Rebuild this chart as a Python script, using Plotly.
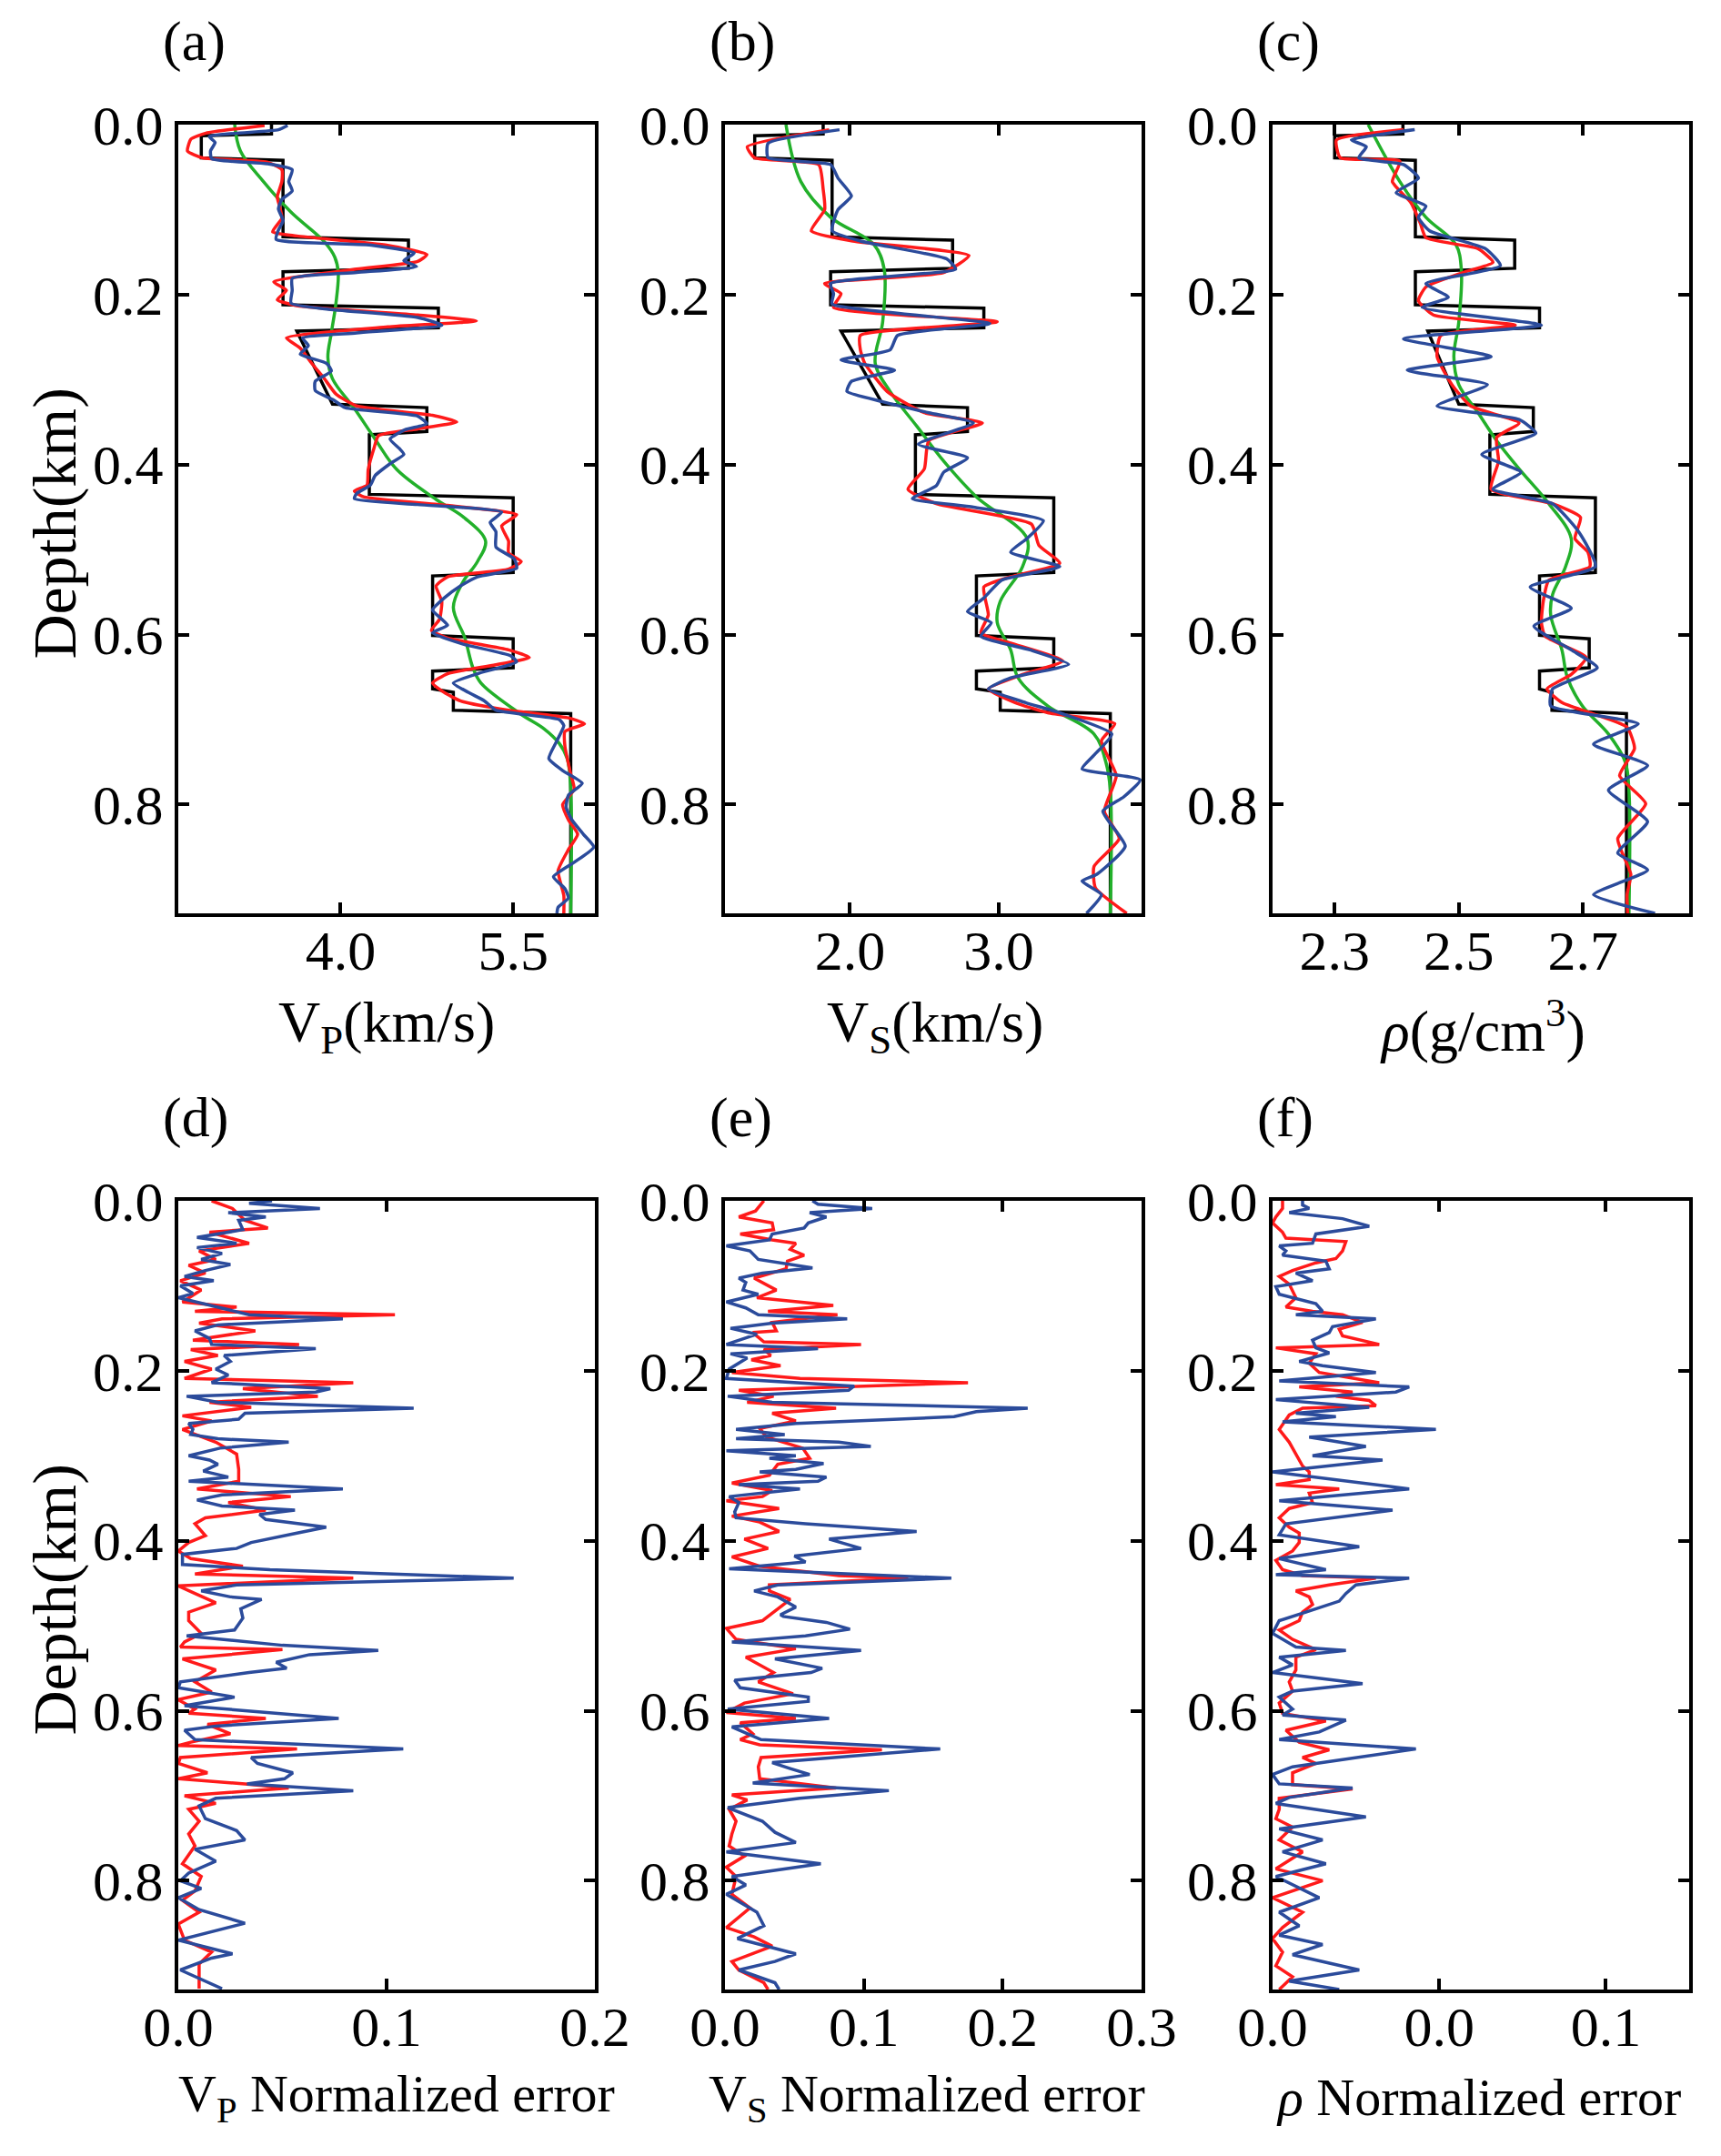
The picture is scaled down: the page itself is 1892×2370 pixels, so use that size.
import plotly.graph_objects as go

W, H = 1892, 2370
FONT = "Liberation Serif"
RED = "#ff1a1a"
BLUE = "#2b4b9b"
GREEN = "#22b02a"

# ---- true model (black): layer interfaces are shared by the three panels
true_depth = [0.000, 0.011, 0.013, 0.039, 0.042, 0.132, 0.136, 0.169, 0.173, 0.212,
              0.216, 0.239, 0.243, 0.329, 0.333, 0.361, 0.365, 0.435, 0.439, 0.527,
              0.531, 0.601, 0.605, 0.639, 0.643, 0.664, 0.668, 0.689, 0.693, 0.928]
true_vp = [3.40, 3.40, 2.79, 2.79, 3.50, 3.50, 4.59, 4.59, 3.50, 3.50,
           4.85, 4.85, 3.62, 3.93, 4.75, 4.75, 4.25, 4.25, 5.50, 5.50,
           4.80, 4.80, 5.50, 5.50, 4.80, 4.80, 4.98, 4.98, 6.00, 6.00]
true_vs = [1.82, 1.82, 1.36, 1.36, 1.88, 1.88, 2.69, 2.69, 1.87, 1.87,
           2.90, 2.90, 1.94, 2.22, 2.79, 2.79, 2.44, 2.44, 3.37, 3.37,
           2.85, 2.85, 3.37, 3.37, 2.85, 2.85, 3.01, 3.01, 3.75, 3.75]
true_rho = [2.41, 2.41, 2.30, 2.30, 2.43, 2.43, 2.59, 2.59, 2.43, 2.43,
            2.63, 2.63, 2.45, 2.50, 2.62, 2.62, 2.55, 2.55, 2.72, 2.72,
            2.63, 2.63, 2.71, 2.71, 2.63, 2.63, 2.65, 2.65, 2.77, 2.77]

# ---- initial (green) models, (depth, value)
vp_init = [(0.000, 3.08), (0.031, 3.13), (0.067, 3.33), (0.103, 3.57), (0.138, 3.86),
           (0.156, 3.95), (0.174, 3.98), (0.210, 3.96), (0.245, 3.92), (0.274, 3.89),
           (0.299, 3.93), (0.334, 4.12), (0.370, 4.30), (0.406, 4.49), (0.441, 4.83),
           (0.463, 5.08), (0.490, 5.26), (0.514, 5.19), (0.539, 5.06), (0.568, 4.98),
           (0.604, 5.08), (0.639, 5.15), (0.657, 5.22), (0.693, 5.56), (0.711, 5.77),
           (0.728, 5.90), (0.746, 5.97), (0.782, 6.00), (0.928, 6.00)]
vs_init = [(0.000, 1.57), (0.067, 1.67), (0.109, 1.87), (0.141, 2.16), (0.170, 2.23),
           (0.232, 2.22), (0.281, 2.17), (0.314, 2.27), (0.355, 2.45), (0.396, 2.63),
           (0.438, 2.85), (0.487, 3.19), (0.520, 3.16), (0.561, 3.01), (0.586, 2.99),
           (0.618, 3.08), (0.651, 3.13), (0.684, 3.33), (0.717, 3.64), (0.750, 3.72),
           (0.783, 3.75), (0.928, 3.75)]
rho_init = [(0.000, 2.354), (0.067, 2.405), (0.109, 2.447), (0.141, 2.495), (0.170, 2.504),
            (0.232, 2.500), (0.273, 2.492), (0.306, 2.500), (0.339, 2.531), (0.372, 2.561),
            (0.405, 2.597), (0.446, 2.645), (0.487, 2.681), (0.520, 2.672), (0.553, 2.651),
            (0.577, 2.648), (0.618, 2.666), (0.651, 2.675), (0.684, 2.699), (0.717, 2.741),
            (0.750, 2.768), (0.783, 2.774), (0.928, 2.774)]

# ---- inverted models (red / blue)
vp_red = [(0.001, 3.34), (0.010, 2.83), (0.017, 2.70), (0.031, 2.67), (0.039, 2.80),
          (0.044, 3.36), (0.053, 3.49), (0.067, 3.49), (0.085, 3.45), (0.096, 3.47),
          (0.110, 3.49), (0.126, 3.41), (0.131, 3.62), (0.142, 4.41), (0.153, 4.75),
          (0.161, 4.67), (0.170, 4.14), (0.185, 3.42), (0.195, 3.53), (0.206, 3.45),
          (0.213, 3.62), (0.224, 4.67), (0.231, 5.18), (0.238, 4.41), (0.251, 3.53),
          (0.263, 3.65), (0.281, 3.75), (0.299, 3.86), (0.317, 3.96), (0.331, 4.14),
          (0.342, 4.80), (0.350, 5.01), (0.358, 4.67), (0.366, 4.33), (0.381, 4.29),
          (0.406, 4.24), (0.424, 4.23), (0.431, 4.12), (0.438, 4.20), (0.448, 4.93),
          (0.459, 5.53), (0.472, 5.40), (0.490, 5.46), (0.504, 5.46), (0.514, 5.57),
          (0.523, 5.46), (0.532, 4.93), (0.543, 4.83), (0.561, 4.88), (0.582, 4.86),
          (0.595, 4.79), (0.604, 4.93), (0.618, 5.46), (0.627, 5.64), (0.636, 5.33),
          (0.646, 4.93), (0.657, 4.80), (0.668, 4.90), (0.678, 5.04), (0.689, 5.46),
          (0.698, 5.98), (0.705, 6.12), (0.714, 5.95), (0.732, 5.95), (0.764, 6.00),
          (0.782, 6.03), (0.800, 5.93), (0.818, 5.98), (0.835, 6.06), (0.853, 5.98),
          (0.878, 5.89), (0.907, 5.94), (0.928, 5.94)]
vp_blue = [(0.001, 3.54), (0.006, 3.46), (0.014, 2.86), (0.021, 2.91), (0.031, 2.87),
           (0.040, 2.88), (0.046, 3.36), (0.053, 3.58), (0.067, 3.55), (0.078, 3.58),
           (0.088, 3.49), (0.099, 3.46), (0.113, 3.50), (0.124, 3.46), (0.135, 3.44),
           (0.142, 4.28), (0.151, 4.64), (0.160, 4.55), (0.167, 4.66), (0.174, 4.14),
           (0.181, 3.58), (0.195, 3.58), (0.210, 3.57), (0.217, 3.88), (0.227, 4.67),
           (0.236, 4.88), (0.245, 4.14), (0.251, 3.67), (0.260, 3.72), (0.270, 3.65),
           (0.281, 3.88), (0.290, 3.92), (0.302, 3.78), (0.313, 3.78), (0.324, 3.94),
           (0.333, 4.04), (0.343, 4.67), (0.352, 4.75), (0.359, 4.56), (0.370, 4.43),
           (0.381, 4.51), (0.388, 4.55), (0.399, 4.43), (0.413, 4.30), (0.424, 4.26),
           (0.434, 4.14), (0.440, 4.12), (0.447, 4.67), (0.456, 5.40), (0.468, 5.30),
           (0.479, 5.35), (0.497, 5.35), (0.511, 5.51), (0.522, 5.53), (0.532, 5.19),
           (0.543, 5.04), (0.557, 4.90), (0.571, 4.80), (0.582, 4.88), (0.589, 4.93),
           (0.598, 4.80), (0.611, 5.06), (0.625, 5.48), (0.632, 5.53), (0.646, 5.19),
           (0.657, 4.98), (0.668, 5.11), (0.678, 5.25), (0.689, 5.35), (0.700, 5.90),
           (0.707, 5.94), (0.725, 5.88), (0.746, 5.81), (0.760, 5.93), (0.775, 6.10),
           (0.789, 5.98), (0.803, 5.96), (0.818, 6.01), (0.835, 6.11), (0.850, 6.20),
           (0.868, 6.03), (0.885, 5.85), (0.899, 5.95), (0.910, 5.98), (0.921, 5.89),
           (0.928, 5.88)]
vs_red = [(0.006, 1.86), (0.026, 1.31), (0.039, 1.36), (0.047, 1.79), (0.076, 1.82),
          (0.100, 1.83), (0.125, 1.74), (0.137, 2.02), (0.154, 2.80), (0.174, 2.63),
          (0.187, 1.83), (0.199, 1.94), (0.215, 1.89), (0.232, 2.99), (0.248, 2.07),
          (0.265, 2.07), (0.281, 2.10), (0.314, 2.25), (0.339, 2.50), (0.351, 2.89),
          (0.372, 2.53), (0.405, 2.50), (0.429, 2.39), (0.446, 2.58), (0.470, 3.22),
          (0.495, 3.27), (0.516, 3.41), (0.532, 3.08), (0.544, 2.90), (0.577, 2.93),
          (0.598, 2.88), (0.610, 3.08), (0.631, 3.43), (0.647, 3.16), (0.664, 2.93),
          (0.680, 3.11), (0.692, 3.33), (0.705, 3.78), (0.725, 3.69), (0.766, 3.79),
          (0.808, 3.71), (0.840, 3.81), (0.873, 3.64), (0.898, 3.65), (0.928, 3.86)]
vs_blue = [(0.006, 1.93), (0.022, 1.45), (0.039, 1.45), (0.047, 1.87), (0.063, 1.92),
           (0.084, 2.01), (0.100, 1.92), (0.125, 1.88), (0.137, 2.07), (0.158, 2.65),
           (0.170, 2.71), (0.187, 1.87), (0.199, 1.89), (0.211, 1.88), (0.234, 2.94),
           (0.248, 2.32), (0.265, 2.27), (0.277, 1.94), (0.289, 2.30), (0.302, 2.01),
           (0.314, 1.98), (0.326, 2.22), (0.339, 2.53), (0.351, 2.83), (0.376, 2.46),
           (0.392, 2.79), (0.409, 2.63), (0.425, 2.58), (0.440, 2.42), (0.450, 2.83),
           (0.466, 3.30), (0.487, 3.19), (0.503, 3.08), (0.520, 3.41), (0.536, 3.02),
           (0.557, 2.90), (0.573, 2.79), (0.586, 2.95), (0.602, 2.88), (0.618, 3.21),
           (0.635, 3.47), (0.651, 3.08), (0.664, 2.93), (0.680, 3.18), (0.692, 3.41),
           (0.717, 3.76), (0.742, 3.64), (0.758, 3.56), (0.771, 3.95), (0.791, 3.84),
           (0.808, 3.70), (0.849, 3.85), (0.882, 3.66), (0.890, 3.56), (0.906, 3.69),
           (0.928, 3.59)]
rho_red = [(0.006, 2.411), (0.018, 2.303), (0.039, 2.309), (0.043, 2.405), (0.067, 2.393),
           (0.092, 2.423), (0.116, 2.438), (0.133, 2.447), (0.146, 2.531), (0.162, 2.555),
           (0.174, 2.507), (0.191, 2.447), (0.207, 2.435), (0.224, 2.459), (0.236, 2.591),
           (0.248, 2.471), (0.273, 2.465), (0.306, 2.489), (0.331, 2.519), (0.351, 2.597),
           (0.368, 2.561), (0.396, 2.564), (0.429, 2.552), (0.446, 2.651), (0.462, 2.696),
           (0.487, 2.687), (0.503, 2.708), (0.520, 2.711), (0.536, 2.645), (0.561, 2.636),
           (0.586, 2.633), (0.602, 2.639), (0.627, 2.705), (0.647, 2.681), (0.664, 2.642),
           (0.680, 2.666), (0.692, 2.711), (0.709, 2.771), (0.734, 2.783), (0.766, 2.759),
           (0.799, 2.801), (0.840, 2.756), (0.882, 2.777), (0.906, 2.771), (0.928, 2.772)]
rho_blue = [(0.006, 2.429), (0.018, 2.327), (0.026, 2.351), (0.039, 2.339), (0.047, 2.411),
            (0.063, 2.435), (0.080, 2.399), (0.096, 2.447), (0.109, 2.435), (0.125, 2.453),
            (0.146, 2.543), (0.166, 2.567), (0.187, 2.447), (0.203, 2.483), (0.215, 2.441),
            (0.236, 2.633), (0.252, 2.411), (0.273, 2.552), (0.289, 2.417), (0.306, 2.546),
            (0.331, 2.465), (0.347, 2.597), (0.363, 2.624), (0.388, 2.537), (0.409, 2.600),
            (0.429, 2.555), (0.446, 2.651), (0.479, 2.693), (0.520, 2.720), (0.544, 2.615),
            (0.569, 2.681), (0.590, 2.621), (0.618, 2.681), (0.639, 2.723), (0.664, 2.651),
            (0.684, 2.648), (0.705, 2.789), (0.729, 2.717), (0.754, 2.804), (0.783, 2.741),
            (0.820, 2.804), (0.857, 2.756), (0.877, 2.804), (0.906, 2.717), (0.928, 2.816)]

# ---- normalized errors (depth, error)
vp_err_red = [(0.000, 0.016), (0.009, 0.026), (0.023, 0.032), (0.032, 0.043), (0.037, 0.015),
              (0.050, 0.034), (0.059, 0.010), (0.069, 0.018), (0.076, 0.005), (0.085, 0.013),
              (0.094, 0.001), (0.105, 0.011), (0.119, 0.002), (0.125, 0.028), (0.130, 0.008),
              (0.134, 0.104), (0.139, 0.021), (0.144, 0.010), (0.153, 0.037), (0.164, 0.007),
              (0.169, 0.058), (0.175, 0.006), (0.182, 0.019), (0.189, 0.003), (0.198, 0.016),
              (0.209, 0.003), (0.214, 0.084), (0.221, 0.031), (0.230, 0.067), (0.237, 0.015),
              (0.243, 0.035), (0.253, 0.002), (0.259, 0.016), (0.269, 0.002), (0.284, 0.018),
              (0.298, 0.028), (0.316, 0.029), (0.330, 0.029), (0.339, 0.009), (0.348, 0.054),
              (0.355, 0.024), (0.364, 0.042), (0.373, 0.013), (0.380, 0.008), (0.394, 0.013),
              (0.402, 0.005), (0.412, 0.000), (0.421, 0.006), (0.430, 0.031), (0.439, 0.008),
              (0.444, 0.084), (0.453, 0.000), (0.462, 0.008), (0.473, 0.018), (0.484, 0.005),
              (0.494, 0.005), (0.509, 0.011), (0.519, 0.003), (0.525, 0.001), (0.528, 0.050),
              (0.539, 0.002), (0.552, 0.018), (0.566, 0.008), (0.578, 0.016), (0.587, 0.000),
              (0.598, 0.008), (0.603, 0.005), (0.609, 0.042), (0.616, 0.014), (0.627, 0.025),
              (0.637, 0.006), (0.641, 0.000), (0.645, 0.057), (0.655, 0.001), (0.662, 0.000),
              (0.673, 0.014), (0.680, 0.000), (0.686, 0.032), (0.691, 0.053), (0.700, 0.003),
              (0.709, 0.018), (0.716, 0.005), (0.730, 0.010), (0.745, 0.005), (0.759, 0.008),
              (0.766, 0.006), (0.780, 0.002), (0.795, 0.011), (0.812, 0.008), (0.823, 0.002),
              (0.837, 0.010), (0.851, 0.000), (0.870, 0.003), (0.884, 0.016), (0.898, 0.010),
              (0.927, 0.010)]
vp_err_blue = [(0.000, 0.045), (0.003, 0.034), (0.009, 0.068), (0.014, 0.024), (0.019, 0.042),
               (0.023, 0.029), (0.034, 0.031), (0.043, 0.009), (0.050, 0.028), (0.055, 0.009),
               (0.062, 0.021), (0.069, 0.011), (0.075, 0.025), (0.082, 0.013), (0.089, 0.003),
               (0.094, 0.017), (0.100, 0.001), (0.109, 0.007), (0.114, 0.000), (0.123, 0.016),
               (0.134, 0.034), (0.139, 0.079), (0.146, 0.019), (0.153, 0.008), (0.162, 0.015),
               (0.169, 0.016), (0.174, 0.066), (0.182, 0.022), (0.189, 0.025), (0.198, 0.018),
               (0.205, 0.024), (0.214, 0.016), (0.221, 0.073), (0.225, 0.066), (0.230, 0.004),
               (0.237, 0.019), (0.244, 0.113), (0.250, 0.032), (0.257, 0.029), (0.262, 0.005),
               (0.269, 0.007), (0.275, 0.006), (0.280, 0.019), (0.284, 0.053), (0.291, 0.020),
               (0.300, 0.005), (0.305, 0.015), (0.310, 0.019), (0.318, 0.012), (0.325, 0.024),
               (0.330, 0.005), (0.339, 0.079), (0.346, 0.021), (0.352, 0.009), (0.359, 0.021),
               (0.364, 0.056), (0.369, 0.039), (0.375, 0.042), (0.384, 0.071), (0.391, 0.057),
               (0.402, 0.035), (0.409, 0.028), (0.416, 0.002), (0.428, 0.002), (0.434, 0.044),
               (0.444, 0.161), (0.452, 0.028), (0.459, 0.011), (0.466, 0.025), (0.469, 0.040),
               (0.480, 0.030), (0.491, 0.031), (0.505, 0.027), (0.512, 0.004), (0.523, 0.050),
               (0.529, 0.096), (0.534, 0.063), (0.543, 0.047), (0.550, 0.052), (0.555, 0.034),
               (0.566, 0.001), (0.573, 0.000), (0.584, 0.027), (0.594, 0.003), (0.602, 0.041),
               (0.609, 0.077), (0.618, 0.018), (0.623, 0.003), (0.634, 0.008), (0.645, 0.108),
               (0.655, 0.035), (0.662, 0.038), (0.673, 0.055), (0.680, 0.051), (0.686, 0.033),
               (0.694, 0.084), (0.703, 0.018), (0.712, 0.010), (0.727, 0.013), (0.741, 0.028),
               (0.752, 0.032), (0.763, 0.008), (0.777, 0.018), (0.791, 0.005), (0.800, 0.001),
               (0.809, 0.011), (0.820, 0.000), (0.834, 0.010), (0.850, 0.032), (0.870, 0.000),
               (0.886, 0.026), (0.891, 0.016), (0.905, 0.001), (0.927, 0.021)]
vs_err_red = [(0.000, 0.028), (0.012, 0.022), (0.019, 0.010), (0.026, 0.034), (0.034, 0.035),
              (0.039, 0.011), (0.046, 0.034), (0.050, 0.051), (0.057, 0.047), (0.064, 0.057),
              (0.071, 0.045), (0.080, 0.044), (0.091, 0.021), (0.105, 0.037), (0.114, 0.023),
              (0.123, 0.078), (0.130, 0.031), (0.134, 0.081), (0.143, 0.034), (0.153, 0.037),
              (0.155, 0.020), (0.166, 0.028), (0.169, 0.098), (0.175, 0.028), (0.182, 0.033),
              (0.187, 0.019), (0.194, 0.040), (0.202, 0.005), (0.209, 0.054), (0.214, 0.175),
              (0.223, 0.010), (0.230, 0.035), (0.237, 0.016), (0.244, 0.080), (0.250, 0.034),
              (0.259, 0.051), (0.268, 0.025), (0.278, 0.030), (0.291, 0.056), (0.303, 0.061),
              (0.310, 0.038), (0.323, 0.032), (0.332, 0.005), (0.341, 0.034), (0.348, 0.027),
              (0.353, 0.001), (0.362, 0.039), (0.371, 0.005), (0.378, 0.025), (0.389, 0.039),
              (0.398, 0.014), (0.409, 0.031), (0.419, 0.005), (0.430, 0.025), (0.441, 0.082),
              (0.444, 0.132), (0.452, 0.032), (0.459, 0.032), (0.469, 0.047), (0.487, 0.032),
              (0.494, 0.027), (0.503, 0.001), (0.516, 0.008), (0.527, 0.051), (0.537, 0.015),
              (0.555, 0.035), (0.566, 0.024), (0.580, 0.049), (0.591, 0.014), (0.602, 0.001),
              (0.609, 0.051), (0.614, 0.011), (0.627, 0.020), (0.634, 0.011), (0.640, 0.025),
              (0.646, 0.113), (0.655, 0.026), (0.666, 0.024), (0.680, 0.025), (0.691, 0.080),
              (0.699, 0.005), (0.705, 0.016), (0.716, 0.003), (0.730, 0.008), (0.745, 0.005),
              (0.759, 0.003), (0.771, 0.014), (0.784, 0.001), (0.795, 0.008), (0.816, 0.005),
              (0.832, 0.018), (0.855, 0.001), (0.866, 0.021), (0.877, 0.034), (0.895, 0.005),
              (0.905, 0.010), (0.920, 0.028), (0.928, 0.031)]
vs_err_blue = [(0.000, 0.063), (0.004, 0.067), (0.009, 0.106), (0.014, 0.061), (0.019, 0.073),
               (0.026, 0.060), (0.032, 0.057), (0.039, 0.034), (0.046, 0.032), (0.053, 0.001),
               (0.059, 0.018), (0.069, 0.024), (0.079, 0.063), (0.085, 0.027), (0.091, 0.010),
               (0.096, 0.015), (0.105, 0.013), (0.110, 0.024), (0.119, 0.001), (0.126, 0.015),
               (0.134, 0.024), (0.139, 0.088), (0.144, 0.034), (0.150, 0.004), (0.157, 0.023),
               (0.169, 0.001), (0.174, 0.067), (0.180, 0.004), (0.185, 0.016), (0.198, 0.003),
               (0.209, 0.001), (0.218, 0.093), (0.223, 0.089), (0.230, 0.002), (0.237, 0.034),
               (0.244, 0.218), (0.248, 0.181), (0.254, 0.165), (0.262, 0.051), (0.269, 0.008),
               (0.275, 0.043), (0.280, 0.008), (0.284, 0.082), (0.289, 0.105), (0.294, 0.001),
               (0.300, 0.051), (0.303, 0.032), (0.309, 0.071), (0.316, 0.051), (0.319, 0.025),
               (0.325, 0.073), (0.330, 0.067), (0.334, 0.010), (0.339, 0.054), (0.348, 0.003),
               (0.355, 0.010), (0.366, 0.007), (0.373, 0.008), (0.380, 0.058), (0.389, 0.138),
               (0.398, 0.075), (0.409, 0.098), (0.418, 0.050), (0.425, 0.058), (0.433, 0.003),
               (0.444, 0.163), (0.452, 0.038), (0.459, 0.021), (0.466, 0.038), (0.478, 0.051),
               (0.487, 0.040), (0.489, 0.042), (0.496, 0.073), (0.504, 0.090), (0.512, 0.058),
               (0.519, 0.005), (0.529, 0.098), (0.539, 0.036), (0.550, 0.070), (0.555, 0.062),
               (0.564, 0.007), (0.573, 0.011), (0.584, 0.060), (0.589, 0.060), (0.598, 0.002),
               (0.609, 0.075), (0.619, 0.005), (0.634, 0.026), (0.645, 0.155), (0.661, 0.034),
               (0.668, 0.047), (0.675, 0.061), (0.685, 0.020), (0.694, 0.118), (0.703, 0.054),
               (0.714, 0.002), (0.730, 0.027), (0.743, 0.036), (0.755, 0.051), (0.766, 0.001),
               (0.780, 0.069), (0.795, 0.005), (0.805, 0.015), (0.816, 0.001), (0.837, 0.023),
               (0.853, 0.028), (0.868, 0.009), (0.886, 0.051), (0.895, 0.036), (0.905, 0.010),
               (0.920, 0.036), (0.928, 0.039)]
rho_err_red = [(0.000, 0.003), (0.009, 0.003), (0.019, 0.001), (0.026, 0.000), (0.037, 0.003),
               (0.044, 0.004), (0.048, 0.022), (0.059, 0.021), (0.068, 0.019), (0.073, 0.013),
               (0.082, 0.006), (0.089, 0.002), (0.098, 0.005), (0.114, 0.007), (0.125, 0.004),
               (0.130, 0.012), (0.134, 0.021), (0.143, 0.027), (0.151, 0.020), (0.159, 0.021),
               (0.169, 0.032), (0.173, 0.001), (0.180, 0.013), (0.191, 0.011), (0.202, 0.014),
               (0.214, 0.032), (0.219, 0.008), (0.225, 0.024), (0.230, 0.019), (0.235, 0.029),
               (0.241, 0.031), (0.244, 0.009), (0.252, 0.005), (0.269, 0.002), (0.284, 0.005),
               (0.298, 0.007), (0.312, 0.009), (0.319, 0.011), (0.328, 0.011), (0.334, 0.001),
               (0.339, 0.020), (0.344, 0.011), (0.355, 0.012), (0.362, 0.005), (0.373, 0.002),
               (0.384, 0.005), (0.391, 0.008), (0.402, 0.008), (0.412, 0.006), (0.423, 0.001),
               (0.434, 0.003), (0.441, 0.009), (0.444, 0.031), (0.452, 0.017), (0.459, 0.007),
               (0.466, 0.011), (0.475, 0.012), (0.484, 0.009), (0.494, 0.008), (0.505, 0.002),
               (0.516, 0.006), (0.528, 0.013), (0.537, 0.007), (0.552, 0.007), (0.566, 0.005),
               (0.577, 0.006), (0.591, 0.002), (0.603, 0.003), (0.612, 0.016), (0.623, 0.004),
               (0.637, 0.008), (0.646, 0.017), (0.655, 0.009), (0.662, 0.013), (0.673, 0.006),
               (0.687, 0.006), (0.692, 0.024), (0.703, 0.002), (0.716, 0.002), (0.727, 0.001),
               (0.737, 0.006), (0.752, 0.002), (0.766, 0.009), (0.786, 0.001), (0.800, 0.015),
               (0.820, 0.000), (0.837, 0.009), (0.855, 0.003), (0.868, 0.000), (0.884, 0.003),
               (0.900, 0.001), (0.913, 0.006), (0.928, 0.002)]
rho_err_blue = [(0.000, 0.009), (0.005, 0.009), (0.009, 0.011), (0.014, 0.005), (0.021, 0.021),
                (0.030, 0.029), (0.039, 0.013), (0.050, 0.012), (0.053, 0.002), (0.059, 0.004),
                (0.064, 0.003), (0.071, 0.016), (0.080, 0.017), (0.085, 0.007), (0.094, 0.012),
                (0.101, 0.001), (0.110, 0.002), (0.121, 0.013), (0.130, 0.015), (0.134, 0.007),
                (0.139, 0.031), (0.148, 0.018), (0.155, 0.017), (0.164, 0.012), (0.173, 0.013),
                (0.179, 0.017), (0.189, 0.008), (0.194, 0.015), (0.202, 0.031), (0.212, 0.002),
                (0.219, 0.041), (0.225, 0.037), (0.234, 0.001), (0.243, 0.029), (0.250, 0.007),
                (0.254, 0.019), (0.260, 0.003), (0.269, 0.049), (0.278, 0.011), (0.289, 0.028),
                (0.300, 0.012), (0.305, 0.033), (0.319, 0.000), (0.339, 0.041), (0.353, 0.002),
                (0.364, 0.036), (0.380, 0.004), (0.393, 0.002), (0.407, 0.026), (0.421, 0.002),
                (0.434, 0.016), (0.440, 0.001), (0.444, 0.041), (0.452, 0.025), (0.462, 0.022),
                (0.471, 0.020), (0.484, 0.010), (0.494, 0.002), (0.509, 0.000), (0.525, 0.007),
                (0.529, 0.022), (0.537, 0.002), (0.546, 0.006), (0.555, 0.000), (0.568, 0.027),
                (0.577, 0.006), (0.584, 0.002), (0.598, 0.006), (0.605, 0.003), (0.611, 0.022),
                (0.625, 0.014), (0.634, 0.002), (0.645, 0.043), (0.666, 0.006), (0.675, 0.000),
                (0.686, 0.002), (0.691, 0.024), (0.702, 0.005), (0.709, 0.001), (0.725, 0.028),
                (0.739, 0.002), (0.752, 0.015), (0.766, 0.003), (0.780, 0.016), (0.795, 0.001),
                (0.820, 0.014), (0.837, 0.002), (0.853, 0.008), (0.864, 0.002), (0.875, 0.015),
                (0.887, 0.006), (0.905, 0.026), (0.918, 0.005), (0.928, 0.020)]

# ---- axes
depth_ticks = [0.0, 0.2, 0.4, 0.6, 0.8]
x_ranges = [[2.59, 6.21], [1.16, 3.96], [2.2, 2.871], [0, 0.2], [0, 0.3], [0, 0.125]]
x_tickvals = [[4.0, 5.5], [2.0, 3.0], [2.3, 2.5, 2.7], [0, 0.1, 0.2], [0, 0.1, 0.2, 0.3], [0, 0.05, 0.1]]
x_ticktext = [["4.0", "5.5"], ["2.0", "3.0"], ["2.3", "2.5", "2.7"], ["0.0", "0.1", "0.2"],
              ["0.0", "0.1", "0.2", "0.3"], ["0.0", "0.0", "0.1"]]
x_titles = ["V<sub>P</sub>(km/s)", "V<sub>S</sub>(km/s)", "<i>ρ</i>(g/cm<sup>3</sup>)",
            "V<sub>P</sub> Normalized error", "V<sub>S</sub> Normalized error",
            "<i>ρ</i> Normalized error"]
labels = ["(a)", "(b)", "(c)", "(d)", "(e)", "(f)"]

# panel frames in pixels
col_left = [188, 789, 1391]
col_w = 458
row_top = [129, 1312]
row_h = 867
title_cx = [417, 1020, 1622, 428, 1011, 1617]
title_cy = [1120, 2297]
title_size = [64, 58]

fig = go.Figure()


def add_line(panel, pairs, color, width=3.5, spline=False, smooth=1.0):
    sfx = "" if panel == 1 else str(panel)
    line = dict(color=color, width=width, shape="spline" if spline else "linear")
    if spline:
        line["smoothing"] = smooth
    fig.add_trace(go.Scatter(
        x=[p[1] for p in pairs], y=[p[0] for p in pairs], mode="lines", line=line,
        xaxis="x" + sfx, yaxis="y" + sfx, showlegend=False, hoverinfo="skip"))


add_line(1, list(zip(true_depth, true_vp)), "black")
add_line(1, vp_init, GREEN, spline=True)
add_line(1, vp_red, RED, spline=True, smooth=0.5)
add_line(1, vp_blue, BLUE, spline=True, smooth=0.5)
add_line(2, list(zip(true_depth, true_vs)), "black")
add_line(2, vs_init, GREEN, spline=True)
add_line(2, vs_red, RED, spline=True, smooth=0.5)
add_line(2, vs_blue, BLUE, spline=True, smooth=0.5)
add_line(3, list(zip(true_depth, true_rho)), "black")
add_line(3, rho_init, GREEN, spline=True)
add_line(3, rho_red, RED, spline=True, smooth=0.5)
add_line(3, rho_blue, BLUE, spline=True, smooth=0.5)
add_line(4, vp_err_red, RED)
add_line(4, vp_err_blue, BLUE)
add_line(5, vs_err_red, RED)
add_line(5, vs_err_blue, BLUE)
add_line(6, rho_err_red, RED)
add_line(6, rho_err_blue, BLUE)

axis_font = dict(family=FONT, size=62, color="black")
common = dict(showline=True, linewidth=4, linecolor="black", mirror="ticks",
              ticks="inside", ticklen=12, tickwidth=4, tickcolor="black",
              showgrid=False, zeroline=False, automargin=False, tickfont=axis_font)

layout = {}
annotations = []
for i in range(6):
    r, c = divmod(i, 3)
    sfx = "" if i == 0 else str(i + 1)
    x0 = col_left[c]
    y0 = row_top[r]
    layout["xaxis" + sfx] = dict(
        domain=[x0 / W, (x0 + col_w) / W], range=x_ranges[i],
        tickvals=x_tickvals[i], ticktext=x_ticktext[i], ticklabelstandoff=-16,
        anchor="y" + sfx, **common)
    layout["yaxis" + sfx] = dict(
        domain=[1 - (y0 + row_h) / H, 1 - y0 / H], range=[0.928, 0],
        tickvals=depth_ticks, ticktext=["%.1f" % t for t in depth_ticks],
        anchor="x" + sfx, **common)
    annotations.append(dict(text=labels[i], x=(x0 - 19) / W, y=1 - (y0 - 92) / H,
                            xref="paper", yref="paper", xanchor="left", yanchor="middle",
                            showarrow=False, font=axis_font))
    annotations.append(dict(text=x_titles[i], x=title_cx[i] / W, y=1 - title_cy[r] / H,
                            xref="paper", yref="paper", xanchor="center", yanchor="middle",
                            showarrow=False,
                            font=dict(family=FONT, size=title_size[r], color="black")))

for r in range(2):
    annotations.append(dict(text="Depth(km)", x=51 / W, y=1 - (row_top[r] + row_h / 2 + 5) / H,
                            xref="paper", yref="paper", xanchor="center", yanchor="middle",
                            textangle=-90, showarrow=False,
                            font=dict(family=FONT, size=68, color="black")))

fig.update_layout(template="none", width=W, height=H, margin=dict(l=0, r=0, t=0, b=0),
                  paper_bgcolor="white", plot_bgcolor="white",
                  annotations=annotations, **layout)

fig.write_html("out.html")
